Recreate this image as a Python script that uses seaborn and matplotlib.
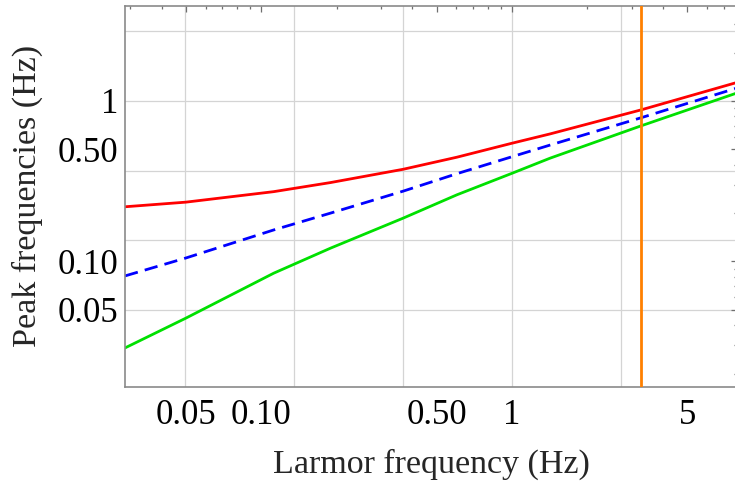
import numpy as np
import pandas as pd
import matplotlib
matplotlib.use("Agg")
import matplotlib.pyplot as plt
import matplotlib.ticker as mticker
import seaborn as sns

# ---- data ----
larmor = [0.0286, 0.05, 0.112, 0.189, 0.368, 0.603, 1.0, 1.42, 3.27, 7.85]
peak_red = [0.219, 0.234, 0.272, 0.310, 0.375, 0.446, 0.545, 0.623, 0.879, 1.30]
peak_blue = [0.0812, 0.105, 0.157, 0.200, 0.274, 0.352, 0.449, 0.531, 0.785, 1.20]
peak_green = [0.0289, 0.0443, 0.0844, 0.121, 0.186, 0.26, 0.354, 0.440, 0.699, 1.117]
vline_x = 3.27
x_ticks = [0.05, 0.1, 0.5, 1, 5]
x_ticklabels = ["0.05", "0.10", "0.50", "1", "5"]
y_ticks = [0.05, 0.1, 0.5, 1]
y_ticklabels = ["0.05", "0.10", "0.50", "1"]
grid_exponents = [-3, -2, -1, 0, 1]

df = pd.DataFrame({
    "x": larmor * 3,
    "y": peak_red + peak_blue + peak_green,
    "series": ["red"] * len(larmor) + ["blue"] * len(larmor) + ["green"] * len(larmor),
})

sns.set_style("white")
plt.rcParams["font.family"] = ["Liberation Serif", "DejaVu Serif"]

fig = plt.figure(figsize=(7.35, 4.83), dpi=100)
L, R, T, B = 125, 737, 5.7, 387
W, H = 735, 483
ax = fig.add_axes([L / W, (H - B) / H, (R - L) / W, (B - T) / H])

ax.set_xscale("log")
ax.set_yscale("log")
ax.set_xlim(0.0286, 7.9)
ax.set_ylim(0.0165, 3.92)

# grid lines at e^n (Mathematica style)
for n in grid_exponents:
    ax.axvline(np.exp(n), color="#d4d4d4", lw=0.9, zorder=0)
    ax.axhline(np.exp(n), color="#d4d4d4", lw=0.9, zorder=0)

palette = {"red": "#ff0000", "blue": "#0000ff", "green": "#00e000"}
for name in ["red", "blue", "green"]:
    sub = df[df["series"] == name]
    sns.lineplot(data=sub, x="x", y="y", ax=ax, color=palette[name], lw=2.0,
                 legend=False, estimator=None, sort=True)
    if name == "blue":
        ax.lines[-1].set_dashes((4.8, 2.6))

ax.axvline(vline_x, color="#ff8000", lw=2.0, zorder=3)

ax.xaxis.set_major_locator(mticker.FixedLocator(x_ticks))
ax.xaxis.set_major_formatter(mticker.FixedFormatter(x_ticklabels))
ax.yaxis.set_major_locator(mticker.FixedLocator(y_ticks))
ax.yaxis.set_major_formatter(mticker.FixedFormatter(y_ticklabels))
ax.xaxis.set_minor_locator(mticker.LogLocator(base=10, subs=np.arange(1, 10)))
ax.yaxis.set_minor_locator(mticker.LogLocator(base=10, subs=np.arange(1, 10)))
ax.xaxis.set_minor_formatter(mticker.NullFormatter())
ax.yaxis.set_minor_formatter(mticker.NullFormatter())

frame_col = "#8a8a8a"
for s in ax.spines.values():
    s.set_color(frame_col)
    s.set_linewidth(1.2)
ax.tick_params(which="both", direction="in", top=True, right=True,
               color="#6f6f6f", width=0.9, labelsize=25, labelcolor="black")
ax.tick_params(which="major", length=4.0)
ax.tick_params(which="minor", length=2.4)
ax.tick_params(axis="y", which="major", pad=5)
ax.tick_params(axis="x", which="major", pad=9)

ax.set_xlabel("Larmor frequency (Hz)", fontsize=24.5, va="center")
ax.set_ylabel("Peak frequencies (Hz)", fontsize=24.5, va="center")
ax.xaxis.set_label_coords(0.5, -0.203)
ax.yaxis.set_label_coords(-0.160, 0.5)

fig.savefig("out.png", dpi=100)
